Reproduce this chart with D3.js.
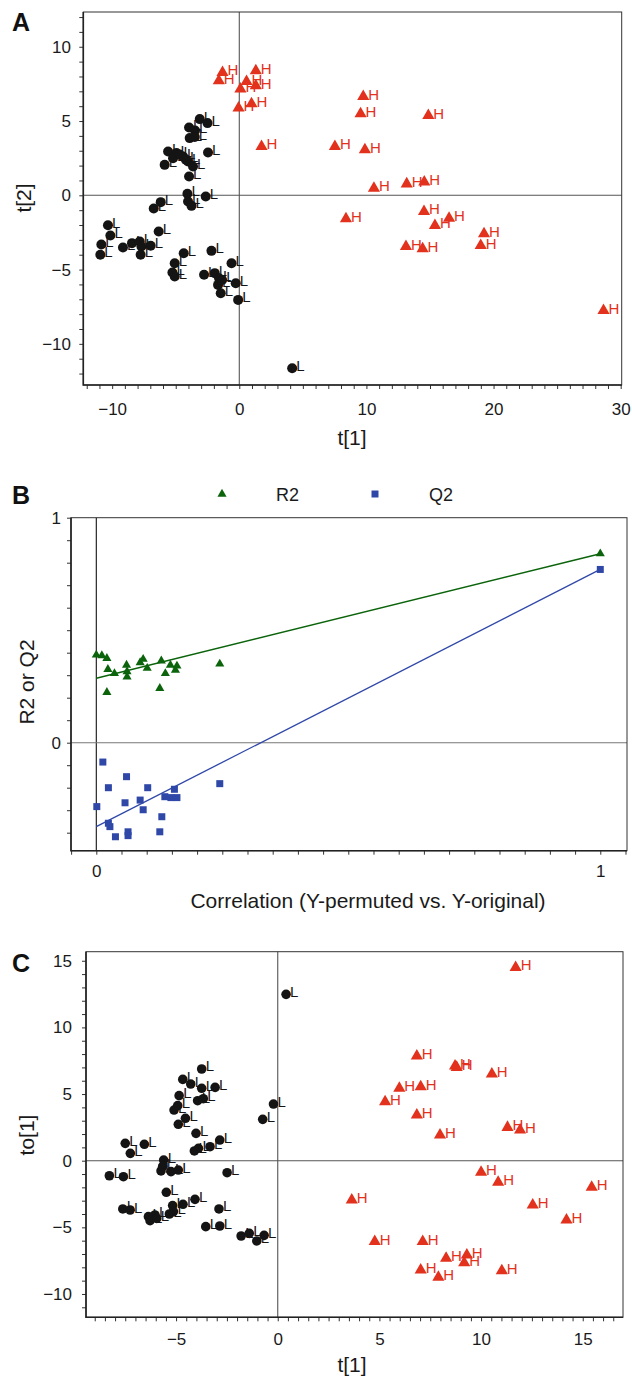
<!DOCTYPE html>
<html>
<head>
<meta charset="utf-8">
<script src="https://cdn.jsdelivr.net/npm/d3@7"></script>
<style>
  body { margin: 0; background: #fff; }
  svg { display: block; font-family: "Liberation Sans", Arial, Helvetica, sans-serif; }
</style>
</head>
<body>
<svg id="fig" width="632" height="1380"></svg>
<script>
// ---- panel A: score plot t[1] vs t[2]
const A_LOW_T1 = [-3.11,-2.50,-3.95,-3.48,-3.90,-3.50,-2.46,-5.60,-4.94,-4.42,-5.87,-4.03,-3.64,-5.21,-4.70,-4.20,-3.95,-4.08,-2.64,-4.03,-3.76,-6.18,-6.73,-10.33,-10.14,-10.85,-10.93,-9.15,-8.44,-7.83,-7.70,-7.76,-6.97,-6.34,-4.37,-5.08,-5.26,-5.08,-2.19,-0.61,-2.77,-1.93,-1.59,-1.67,-0.28,-1.46,-0.09,-1.35,4.16]
const A_LOW_T2 = [5.13,4.86,4.57,4.36,3.85,3.92,2.88,2.95,2.84,2.61,2.05,2.28,1.94,2.50,2.75,2.40,1.27,0.10,-0.08,-0.42,-0.71,-0.46,-0.89,-2.01,-2.70,-3.31,-4.00,-3.51,-3.22,-3.11,-3.45,-4.00,-3.40,-2.44,-3.90,-4.57,-5.20,-5.47,-3.74,-4.57,-5.35,-5.24,-5.58,-6.03,-5.92,-6.59,-7.04,-5.70,-11.64]
const A_HIGH_T1 = [-1.32,-1.61,1.30,0.57,0.09,1.30,-0.06,0.96,1.75,9.75,9.54,14.87,7.52,9.88,10.59,13.17,14.55,14.53,8.39,15.39,16.50,19.25,18.99,13.11,14.42,28.65]
const A_HIGH_T2 = [8.27,7.71,8.38,7.66,7.15,7.37,5.87,6.16,3.29,6.65,5.49,5.37,3.29,3.06,0.48,0.77,0.89,-1.09,-1.58,-2.03,-1.54,-2.59,-3.38,-3.45,-3.60,-7.76]
const A_X_LABELS = [-10, 0, 10, 20, 30]
const A_Y_LABELS = [-10, -5, 0, 5, 10]

// ---- panel B: permutation test
const B_R2_X = [0,0.011,0.021,0.023,0.021,0.036,0.060,0.061,0.061,0.087,0.093,0.101,0.126,0.129,0.137,0.147,0.157,0.160,0.245,1]
const B_R2_Y = [0.39,0.387,0.375,0.326,0.224,0.308,0.345,0.316,0.293,0.356,0.371,0.331,0.242,0.364,0.308,0.345,0.323,0.341,0.350,0.84]
const B_Q2_X = [0.013,0.060,0.024,0.102,0.245,0.001,0.057,0.087,0.093,0.136,0.155,0.148,0.160,0.130,0.024,0.027,0.038,0.063,0.063,0.126,1]
const B_Q2_Y = [-0.086,-0.151,-0.2,-0.2,-0.182,-0.284,-0.267,-0.255,-0.298,-0.24,-0.207,-0.244,-0.244,-0.329,-0.358,-0.373,-0.418,-0.396,-0.413,-0.396,0.77]
const B_FIT_X = [0, 1]
const B_R2_FIT = [0.286, 0.84]
const B_Q2_FIT = [-0.373, 0.77]
const B_X_LABELS = [0, 1]
const B_Y_LABELS = [0, 1]
const B_SERIES = ['R2', 'Q2']

// ---- panel C: OPLS t[1] vs to[1]
const C_LOW_T1 = [0.41,-3.74,-4.67,-4.28,-3.74,-3.08,-4.85,-3.94,-3.66,-4.92,-5.10,-0.21,-0.74,-4.54,-4.89,-4.02,-2.85,-3.33,-3.90,-4.10,-7.50,-6.56,-7.25,-5.61,-8.28,-7.59,-5.74,-5.25,-4.89,-5.66,-2.49,-5.48,-7.62,-7.26,-4.07,-4.66,-5.17,-5.13,-5.33,-6.04,-6.36,-6.28,-5.95,-2.89,-3.54,-2.85,-1.80,-1.40,-1.03,-0.67]
const C_LOW_TO1 = [12.48,6.88,6.10,5.75,5.43,5.50,4.88,4.50,4.65,4.13,3.80,4.25,3.10,3.18,2.73,2.05,1.55,1.05,0.93,0.73,1.30,1.23,0.55,0.05,-1.13,-1.20,-0.77,-0.82,-0.70,-0.43,-0.90,-2.37,-3.62,-3.70,-2.90,-3.27,-3.37,-3.82,-4.00,-4.07,-4.20,-4.50,-4.33,-3.62,-4.95,-4.90,-5.65,-5.45,-6.02,-5.60]
const C_HIGH_T1 = [11.70,6.84,8.72,8.80,10.53,5.98,7.03,5.28,6.84,7.98,11.30,11.92,10.00,10.84,15.44,3.64,12.54,14.20,4.77,7.13,8.28,9.30,9.17,7.03,7.90,11.02]
const C_HIGH_TO1 = [14.50,7.85,7.10,7.00,6.50,5.43,5.55,4.43,3.43,1.93,2.50,2.30,-0.87,-1.62,-2.00,-2.95,-3.32,-4.45,-6.07,-6.07,-7.32,-7.07,-7.65,-8.20,-8.75,-8.25]
const C_X_LABELS = [-5, 0, 5, 10, 15]
const C_Y_LABELS = [-10, -5, 0, 5, 10, 15]

const RED = '#e2311d'
const BLACK = '#141414'
const GREEN = '#0b640b'
const BLUE = '#2f48a8'

const svg = d3.select('#fig')

function zip(xs, ys){
  return xs.map((x, i) => ({x: x, y: ys[i]}))
}

function labelled(labels){
  return d => labels.some(l => Math.abs(l - d) < 1e-9) ? d3.format('d')(d) : ''
}

// frame, ticks and labels common to all three panels
function drawAxes(g, x, y, o){
  const [x0, x1] = x.range()
  const [y0, y1] = y.range()

  const xAxis = g.append('g')
    .attr('transform', 'translate(0,' + y0 + ')')
    .call(d3.axisBottom(x).tickValues(o.xTicks).tickSize(4).tickPadding(o.xPad).tickFormat(labelled(o.xLabels)))
  const yAxis = g.append('g')
    .attr('transform', 'translate(' + x0 + ',0)')
    .call(d3.axisLeft(y).tickValues(o.yTicks).tickSize(4).tickPadding(o.yPad).tickFormat(labelled(o.yLabels)))

  for(const ax of [xAxis, yAxis]){
    ax.select('.domain').remove()
    ax.selectAll('line').attr('stroke', '#333').attr('stroke-width', 1)
    ax.selectAll('text').attr('font-size', 17).attr('fill', '#1a1a1a').attr('font-family', null)
  }

  g.append('rect')
    .attr('x', x0).attr('y', y1)
    .attr('width', x1 - x0).attr('height', y0 - y1)
    .attr('fill', 'none').attr('stroke', '#333').attr('stroke-width', 1)
  g.append('path')
    .attr('d', 'M' + x0 + ',' + y1 + 'V' + y0 + 'H' + x1)
    .attr('fill', 'none').attr('stroke', '#222').attr('stroke-width', 1.6)
}

function zeroLines(g, x, y, vColor, hColor){
  g.append('line')
    .attr('x1', x(0)).attr('x2', x(0))
    .attr('y1', y.range()[1]).attr('y2', y.range()[0])
    .attr('stroke', vColor).attr('stroke-width', 1.1)
  g.append('line')
    .attr('x1', x.range()[0]).attr('x2', x.range()[1])
    .attr('y1', y(0)).attr('y2', y(0))
    .attr('stroke', hColor).attr('stroke-width', 1.1)
}

function axisTitles(g, xt, yt, o){
  g.append('text')
    .attr('x', o.xTitleX).attr('y', o.xTitleY)
    .attr('text-anchor', 'middle').attr('font-size', 21).attr('fill', '#1a1a1a')
    .text(xt)
  g.append('text')
    .attr('transform', 'translate(' + o.yTitleX + ',' + o.yTitleY + ') rotate(-90)')
    .attr('text-anchor', 'middle').attr('font-size', 21).attr('fill', '#1a1a1a')
    .text(yt)
}

function panelLetter(letter, px, py){
  svg.append('text')
    .attr('x', px).attr('y', py)
    .attr('font-size', 25).attr('font-weight', 'bold').attr('fill', '#111')
    .text(letter)
}

function scorePlot(o){
  const g = svg.append('g')
  const x = d3.scaleLinear().domain(o.xDomain).range(o.xRange)
  const y = d3.scaleLinear().domain(o.yDomain).range(o.yRange)

  zeroLines(g, x, y, '#555', '#555')
  drawAxes(g, x, y, o)

  const low = g.append('g').selectAll('g')
    .data(zip(o.lowX, o.lowY))
    .enter().append('g')
      .attr('transform', d => 'translate(' + x(d.x) + ',' + y(d.y) + ')')
  low.append('circle').attr('r', o.r).attr('fill', BLACK)
  low.append('text')
    .attr('x', 4).attr('y', 2.5)
    .attr('font-size', 15).attr('fill', BLACK)
    .text('L')

  const tri = d3.symbol().type(d3.symbolTriangle).size(64)
  const high = g.append('g').selectAll('g')
    .data(zip(o.highX, o.highY))
    .enter().append('g')
      .attr('transform', d => 'translate(' + x(d.x) + ',' + y(d.y) + ')')
  high.append('path').attr('d', tri).attr('fill', RED)
  high.append('text')
    .attr('x', 5).attr('y', 3)
    .attr('font-size', 15).attr('fill', RED)
    .text('H')

  axisTitles(g, o.xTitle, o.yTitle, o)
}

function permutationPlot(){
  const g = svg.append('g')
  const x = d3.scaleLinear().domain([-0.0502, 1.053]).range([71, 627])
  const y = d3.scaleLinear().domain([-0.48, 1]).range([850.7, 517.7])

  zeroLines(g, x, y, '#111', '#777')
  drawAxes(g, x, y, {
    xTicks: d3.range(-1, 22).map(i => i / 20), xLabels: B_X_LABELS, xPad: 10.2,
    yTicks: d3.range(-4, 11).map(i => i / 10), yLabels: B_Y_LABELS, yPad: 6
  })

  const line = d3.line().x(d => x(d.x)).y(d => y(d.y))
  g.append('path').datum(zip(B_FIT_X, B_R2_FIT))
    .attr('d', line).attr('fill', 'none').attr('stroke', GREEN).attr('stroke-width', 1.5)
  g.append('path').datum(zip(B_FIT_X, B_Q2_FIT))
    .attr('d', line).attr('fill', 'none').attr('stroke', BLUE).attr('stroke-width', 1.3)

  const tri = d3.symbol().type(d3.symbolTriangle).size(36)
  g.append('g').selectAll('path')
    .data(zip(B_R2_X, B_R2_Y))
    .enter().append('path')
      .attr('d', tri)
      .attr('transform', d => 'translate(' + x(d.x) + ',' + y(d.y) + ')')
      .attr('fill', GREEN)
  g.append('g').selectAll('rect')
    .data(zip(B_Q2_X, B_Q2_Y))
    .enter().append('rect')
      .attr('x', d => x(d.x) - 3.5).attr('y', d => y(d.y) - 3.5)
      .attr('width', 7).attr('height', 7)
      .attr('fill', BLUE)

  // legend
  const legend = g.append('g').attr('transform', 'translate(0,494)')
  legend.append('path').attr('d', tri).attr('transform', 'translate(222,0)').attr('fill', GREEN)
  legend.append('rect').attr('x', 371.5).attr('y', -3.5).attr('width', 7).attr('height', 7).attr('fill', BLUE)
  legend.selectAll('text.key')
    .data(B_SERIES)
    .enter().append('text')
      .attr('class', 'key')
      .attr('x', (d, i) => i == 0 ? 276 : 429)
      .attr('y', 6.5)
      .attr('font-size', 18).attr('fill', '#1a1a1a')
      .text(d => d)

  axisTitles(g, 'Correlation (Y-permuted vs. Y-original)', 'R2 or Q2',
    {xTitleX: 368, xTitleY: 908, yTitleX: 34, yTitleY: 682})
}

// MAIN
panelLetter('A', 12, 31)
scorePlot({
  xDomain: [-12.27, 30.08], xRange: [83.3, 621.7],
  yDomain: [-12.77, 12.34], yRange: [385, 12],
  xTicks: d3.range(-12, 31), xLabels: A_X_LABELS, xPad: 13.9,
  yTicks: d3.range(-12, 13), yLabels: A_Y_LABELS, yPad: 8.3,
  lowX: A_LOW_T1, lowY: A_LOW_T2, highX: A_HIGH_T1, highY: A_HIGH_T2, r: 5,
  xTitle: 't[1]', yTitle: 't[2]',
  xTitleX: 352, xTitleY: 445, yTitleX: 31, yTitleY: 198
})

panelLetter('B', 12, 504)
permutationPlot()

panelLetter('C', 12, 972)
scorePlot({
  xDomain: [-9.43, 16.98], xRange: [86, 623],
  yDomain: [-11.75, 15.68], yRange: [1317.3, 951.7],
  xTicks: d3.range(-18, 34).map(i => i / 2), xLabels: C_X_LABELS, xPad: 11.6,
  yTicks: d3.range(-11, 16), yLabels: C_Y_LABELS, yPad: 10,
  lowX: C_LOW_T1, lowY: C_LOW_TO1, highX: C_HIGH_T1, highY: C_HIGH_TO1, r: 4.8,
  xTitle: 't[1]', yTitle: 'to[1]',
  xTitleX: 352, xTitleY: 1372, yTitleX: 34, yTitleY: 1135
})
</script>
</body>
</html>
